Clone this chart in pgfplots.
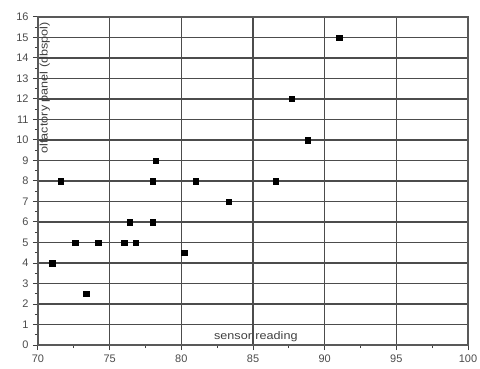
\documentclass[border=0pt]{standalone}
\usepackage{graphicx}
\usepackage{pgfplots}
\pgfplotsset{compat=1.18}
\usepackage{fontspec}
\setmainfont{Liberation Sans}
\begin{document}
\begin{tikzpicture}
\useasboundingbox[fill=white] (-38bp,-24bp) rectangle (442bp,345bp);
\begin{axis}[
  at={(0,0)}, anchor=south west,
  scale only axis, width=430bp, height=328bp,
  xmin=70, xmax=100, ymin=0, ymax=16,
  xtick={70,75,...,100}, ytick={0,1,...,16},
  minor xtick={72.5,77.5,...,97.5},
  minor ytick={0.5,1.5,...,15.5},
  tick align=outside, tick pos=left,
  major tick length=5bp, minor tick length=3bp,
  tick style={black!75, line width=1bp},
  grid=major,
  major grid style={black!70, line width=1.5bp},
  axis line style={black!65, line width=1.3bp},
  ticklabel style={font=\fontsize{11}{12}\selectfont, text=black!70},
  /pgf/number format/assume math mode=true,
  xticklabel style={yshift=-1bp},
  yticklabel style={xshift=-1bp},
]
\addplot[only marks, mark=square*, mark size=2.7bp, black] coordinates {
  (71.0,4) (71.6,8) (72.6,5) (73.35,2.5) (74.2,5)
  (76.0,5) (76.4,6) (76.8,5) (78.0,6) (78.0,8) (78.2,9)
  (80.2,4.5) (81.0,8) (83.3,7) (86.6,8) (87.7,12)
  (88.8,10) (91.0,15)
};
\node[rotate=90, anchor=south east, font=\fontsize{11}{12}\selectfont, text=black!75, inner sep=0bp]
  at (axis cs:70.85,15.75) {\scalebox{1.15}[1]{olfactory panel (dbspol)}};
\node[anchor=south, font=\fontsize{11}{12}\selectfont, text=black!75, inner sep=0bp]
  at (axis cs:85.2,0.15) {\scalebox{1.15}[1]{sensor reading}};
\end{axis}
\end{tikzpicture}
\end{document}
